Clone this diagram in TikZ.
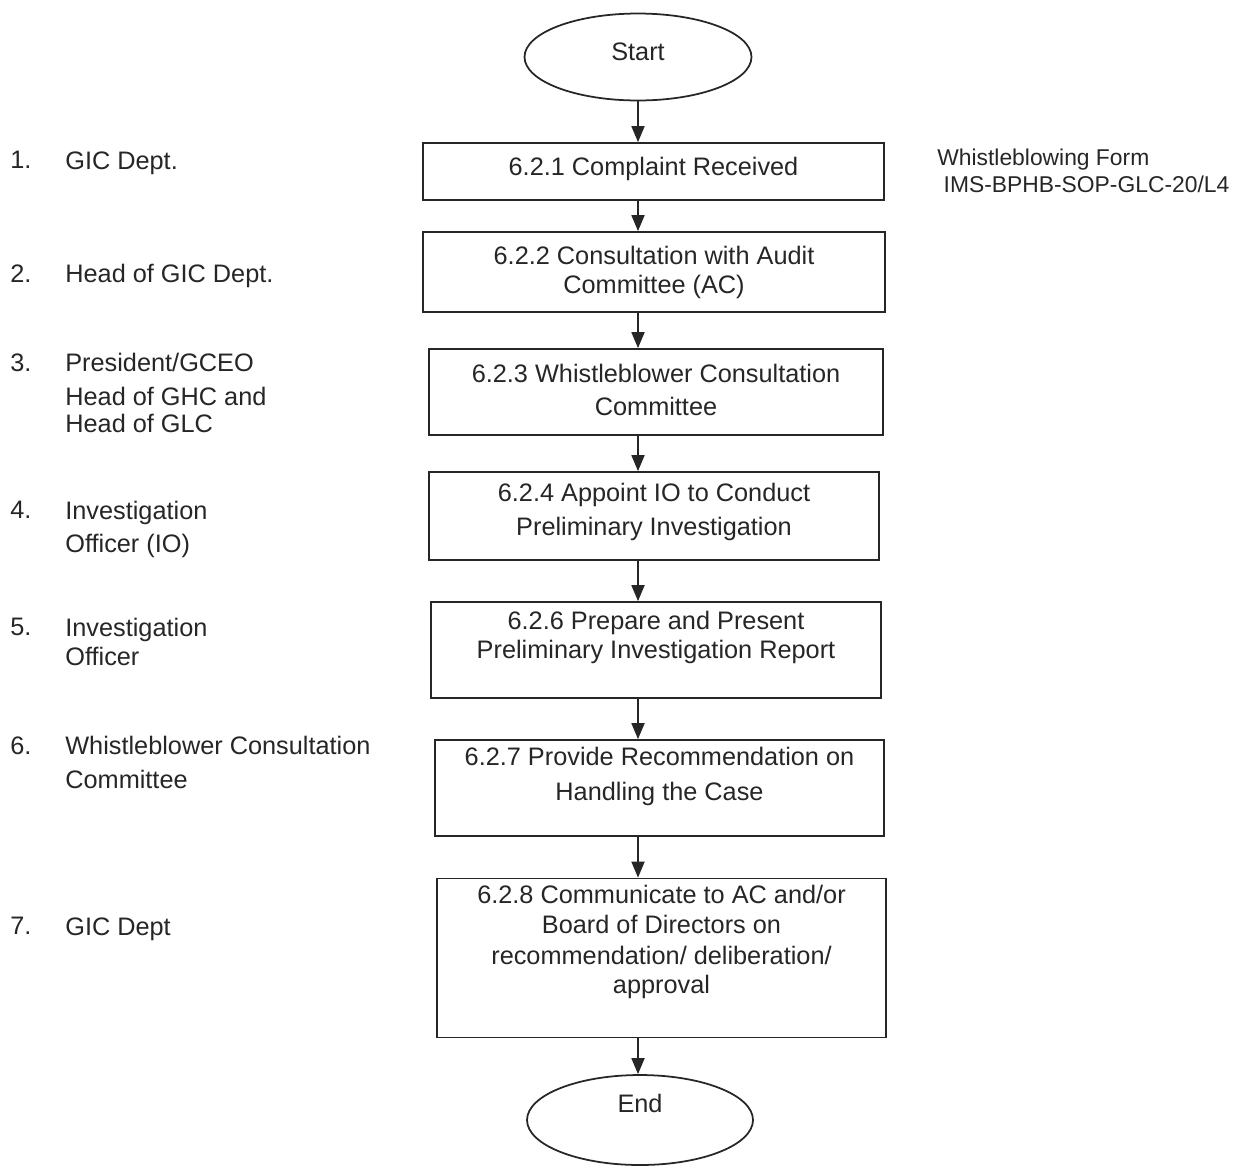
\documentclass[tikz,border=0pt]{standalone}
\usepackage{fontspec}
\setmainfont{Liberation Sans}
\usetikzlibrary{shapes.geometric,arrows.meta}
\definecolor{ink}{HTML}{262626}
\tikzset{
  stepbox/.style={draw=ink, line width=1pt, align=center, inner sep=0pt, text=ink,
    font=\fontsize{14.4}{16.5}\selectfont},
  term/.style={ellipse, draw=ink, line width=1pt, inner sep=0pt, text=ink,
    font=\fontsize{14.4}{16.5}\selectfont},
  lift/.style={text depth=#1},
  flow/.style={draw=ink, line width=1pt, -{Triangle[length=3.2mm,width=2.6mm]}},
  role/.style={anchor=north west, align=left, inner sep=0pt, text=ink,
    font=\fontsize{14.4}{16.5}\selectfont},
  note/.style={anchor=north west, align=left, inner sep=0pt, text=ink,
    font=\fontsize{13}{15.4}\selectfont},
}
\begin{document}
\begin{tikzpicture}[x=0.02cm,y=-0.02cm]
\useasboundingbox (0,0) rectangle (1239,1167);

% terminals
\node[term, lift=5.7pt, minimum width=4.54cm, minimum height=1.74cm] (start) at (638,57) {Start};
\node[term, lift=19.4pt, minimum width=4.52cm, minimum height=1.8cm] (end) at (640,1120) {End};

% process steps
\node[stepbox, lift=6.4pt, minimum width=9.22cm, minimum height=1.14cm] (b1) at (653.5,171.5) {6.2.1 Complaint Received};
\node[stepbox, minimum width=9.24cm, minimum height=1.6cm] (b2) at (654,272) {6.2.2 Consultation with Audit\\Committee (AC)};
\node[stepbox, lift=2.8pt, minimum width=9.08cm, minimum height=1.72cm] (b3) at (656,392) {6.2.3 Whistleblower Consultation\\[2.3pt]Committee};
\node[stepbox, lift=7.5pt, minimum width=9cm, minimum height=1.76cm] (b4) at (654,516) {6.2.4 Appoint IO to Conduct\\[2.8pt]Preliminary Investigation};
\node[stepbox, lift=17.5pt, minimum width=9cm, minimum height=1.92cm] (b5) at (656,650) {6.2.6 Prepare and Present\\Preliminary Investigation Report};
\node[stepbox, lift=16.4pt, minimum width=8.98cm, minimum height=1.92cm] (b6) at (659.5,788) {6.2.7 Provide Recommendation on\\[3.4pt]Handling the Case};
\node[stepbox, lift=21.5pt, minimum width=8.98cm, minimum height=3.18cm] (b7) at (661.5,958) {6.2.8 Communicate to AC and/or\\[1pt]Board of Directors on\\[1pt]recommendation/ deliberation/\\approval};

% connectors
\draw[flow] (start) -- (start |- b1.north);
\draw[flow] (b1.south -| start) -- (b2.north -| start);
\draw[flow] (b2.south -| start) -- (b3.north -| start);
\draw[flow] (b3.south -| start) -- (b4.north -| start);
\draw[flow] (b4.south -| start) -- (b5.north -| start);
\draw[flow] (b5.south -| start) -- (b6.north -| start);
\draw[flow] (b6.south -| start) -- (b7.north -| start);
\draw[flow] (b7.south -| start) -- (end.north -| start);

% who does it
\node[role] (n1) at (10,151) {1.};
\node[role] (r1) at (65,151) {GIC Dept.};
\node[role] (n2) at (10,264) {2.};
\node[role] (r2) at (65,264) {Head of GIC Dept.};
\node[role] (n3) at (10,353) {3.};
\node[role] (r3) at (65,353) {President/GCEO\\[2.8pt]Head of GHC and\\[-1.1pt]Head of GLC};
\node[role] (n4) at (10,501) {4.};
\node[role] (r4) at (65,501) {Investigation\\[2.3pt]Officer (IO)};
\node[role] (n5) at (10,618) {5.};
\node[role] (r5) at (65,618) {Investigation\\Officer};
\node[role] (n6) at (10,736) {6.};
\node[role] (r6) at (65,736) {Whistleblower Consultation\\[2.8pt]Committee};
\node[role] (n7) at (10,917) {7.};
\node[role] (r7) at (65,917) {GIC Dept};

% form reference
\node[note] (form) at (937,149) {Whistleblowing Form\\\hspace*{3.6pt}IMS-BPHB-SOP-GLC-20/L4};
\end{tikzpicture}
\end{document}
